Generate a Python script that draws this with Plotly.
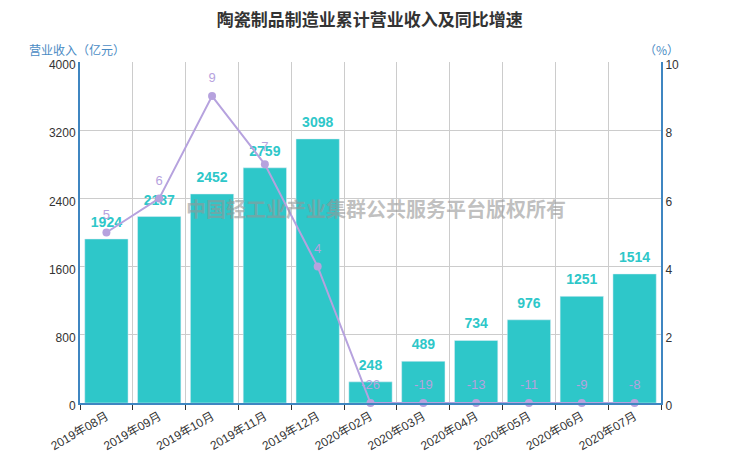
import plotly.graph_objects as go

months = ['2019年08月', '2019年09月', '2019年10月', '2019年11月', '2019年12月', '2020年02月',
          '2020年03月', '2020年04月', '2020年05月', '2020年06月', '2020年07月']
revenue = [1924, 2187, 2452, 2759, 3098, 248, 489, 734, 976, 1251, 1514]
growth = [5, 6, 9, 7, 4, -26, -19, -13, -11, -9, -8]

teal = '#2ec7c9'
lavender = '#b6a2de'
axis_blue = '#3f86c1'
font_family = 'Noto Sans CJK SC, Arial, sans-serif'

# right axis starts at 0, so negative growth sits on the baseline
growth_plot = [max(g, 0) for g in growth]

fig = go.Figure()

fig.add_trace(go.Bar(
    x=months, y=revenue, name='营业收入',
    marker_color=teal,
    hoverinfo='x+y',
))

# bar value labels, lifted a bit above the bar tops
fig.add_trace(go.Scatter(
    x=months, y=revenue, mode='markers+text',
    marker=dict(size=12, opacity=0),
    text=[str(v) for v in revenue], textposition='top center',
    textfont=dict(family='Liberation Sans, Arial', size=14, color=teal, weight='bold'),
    cliponaxis=False, hoverinfo='skip',
))

fig.add_trace(go.Scatter(
    x=months, y=growth_plot, yaxis='y2', name='同比增速',
    mode='lines+markers',
    line=dict(color=lavender, width=2),
    marker=dict(color=lavender, size=8),
    cliponaxis=False,
))

fig.add_trace(go.Scatter(
    x=months, y=growth_plot, yaxis='y2', mode='markers+text',
    marker=dict(size=15, opacity=0),
    text=[str(g) for g in growth], textposition='top center',
    textfont=dict(family='Arial, Liberation Sans', size=13, color=lavender),
    cliponaxis=False, hoverinfo='skip',
))

# page has an 8px body margin, so margins are shifted to compensate
fig.update_layout(
    width=740, height=462,
    margin=dict(l=72, r=87, t=54, b=67),
    paper_bgcolor='white', plot_bgcolor='white',
    showlegend=False,
    bargap=0.18,
    font=dict(family=font_family, size=12, color='#333'),
    title=dict(text='<b>陶瓷制品制造业累计营业收入及同比增速</b>', x=0.489, xanchor='center',
               y=0.986, yanchor='top', font=dict(size=17, color='#333')),
    xaxis=dict(
        type='category', range=[-0.5, len(months) - 0.5],
        tickson='boundaries', showgrid=True, gridcolor='#ccc',
        tickangle=-30, ticks='outside', ticklen=5, tickcolor='#333',
        showline=True, linecolor=axis_blue, linewidth=2, automargin=False,
        tickfont=dict(family='Arial, Liberation Sans, Noto Sans CJK SC', size=12, color='#333'),
    ),
    yaxis=dict(
        range=[0, 4000], dtick=800, showgrid=True, gridcolor='#ccc',
        showline=True, linecolor=axis_blue, linewidth=2, zeroline=False, automargin=False,
        ticks='', ticklabelshift=3,
        tickfont=dict(family='Arial, Liberation Sans', size=12, color='#333'),
    ),
    yaxis2=dict(
        range=[0, 10], dtick=2, overlaying='y', side='right', showgrid=False,
        showline=True, linecolor=axis_blue, linewidth=2, zeroline=False, automargin=False,
        ticks='', ticklabelshift=3,
        tickfont=dict(family='Arial, Liberation Sans', size=12, color='#333'),
    ),
)

fig.add_annotation(text='营业收入（亿元）', xref='paper', yref='paper', x=-0.005, y=1.006,
                   xanchor='center', yanchor='bottom', showarrow=False,
                   font=dict(size=12, color='#4a8bc4'))
fig.add_annotation(text='（%）', xref='paper', yref='paper', x=1.0, y=1.006,
                   xanchor='center', yanchor='bottom', showarrow=False,
                   font=dict(size=12, color='#4a8bc4'))

# watermark
fig.add_annotation(text='<b>中国轻工业产业集群公共服务平台版权所有</b>', xref='paper', yref='paper',
                   x=0.509, y=0.569, showarrow=False,
                   font=dict(size=20, color='rgba(150,150,150,0.6)'))

fig.write_html('out.html')
